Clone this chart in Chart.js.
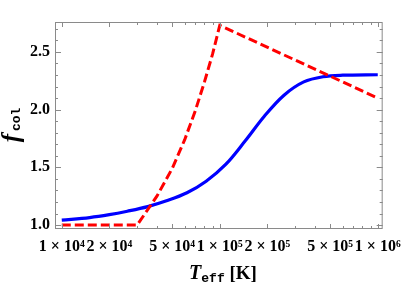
<!DOCTYPE html>
<html>
<head>
<meta charset="utf-8">
<script src="https://cdn.jsdelivr.net/npm/chart.js@4.4.1/dist/chart.umd.min.js"></script>
<style>
  html, body { margin: 0; padding: 0; background: #fff; }
  #wrap { width: 409px; height: 289px; }
</style>
</head>
<body>
<div id="wrap"><canvas id="fcolChart"></canvas></div>
<script>
// color correction factor vs effective temperature

// blue solid curve
const blueT = [1e4, 1.5e4, 2e4, 2.6e4, 3.5e4, 4.6e4, 6.2e4, 8.2e4, 1.09e5, 1.45e5, 1.92e5, 2.55e5, 3.4e5, 4.5e5, 6e5, 1e6];
const blueF = [1.043, 1.065, 1.09, 1.12, 1.16, 1.21, 1.28, 1.38, 1.525, 1.73, 1.945, 2.125, 2.24, 2.285, 2.298, 2.302];

// red dashed curve
const redT = [1e4, 3e4, 4e4, 5e4, 6e4, 7e4, 8e4, 9e4, 1e5, 1e6];
const redF = [1.0, 1.0, 1.25, 1.49, 1.74, 1.99, 2.24, 2.48, 2.73, 2.10];

// axes
const xTicks = [1e4, 2e4, 5e4, 1e5, 2e5, 5e5, 1e6];
const xTickLabels = ['1 × 10⁴', '2 × 10⁴', '5 × 10⁴', '1 × 10⁵', '2 × 10⁵', '5 × 10⁵', '1 × 10⁶'];
const xMinor = [3e4, 4e4, 6e4, 7e4, 8e4, 9e4, 3e5, 4e5, 6e5, 7e5, 8e5, 9e5];
const yTicks = [1.0, 1.5, 2.0, 2.5];
const yMinor = [1.1, 1.2, 1.3, 1.4, 1.6, 1.7, 1.8, 1.9, 2.1, 2.2, 2.3, 2.4, 2.6, 2.7];

const frameColor = '#8a8a8a';

// frame, inward ticks and axis titles (Mathematica style)
const framePlugin = {
  id: 'frame',
  afterDraw(chart) {
    const ctx = chart.ctx;
    const a = chart.chartArea;
    const xs = chart.scales.x, ys = chart.scales.y;
    ctx.save();
    ctx.strokeStyle = frameColor;
    ctx.lineWidth = 1;
    ctx.strokeRect(a.left + 0.5, a.top + 0.5, a.right - a.left - 1, a.bottom - a.top - 1);

    function xTick(v, len) {
      const px = Math.round(xs.getPixelForValue(v)) + 0.5;
      ctx.beginPath();
      ctx.moveTo(px, a.bottom); ctx.lineTo(px, a.bottom - len);
      ctx.moveTo(px, a.top); ctx.lineTo(px, a.top + len);
      ctx.stroke();
    }
    function yTick(v, len) {
      const py = Math.round(ys.getPixelForValue(v)) + 0.5;
      ctx.beginPath();
      ctx.moveTo(a.left, py); ctx.lineTo(a.left + len, py);
      ctx.moveTo(a.right, py); ctx.lineTo(a.right - len, py);
      ctx.stroke();
    }
    xTicks.forEach(v => xTick(v, 5));
    xMinor.forEach(v => xTick(v, 3));
    yTicks.forEach(v => yTick(v, 6));
    yMinor.forEach(v => yTick(v, 3));

    // x title: T_eff [K]
    ctx.fillStyle = '#000';
    ctx.textBaseline = 'alphabetic';
    ctx.textAlign = 'left';
    const fT = 'italic bold 20px "Liberation Serif", serif';
    const fSub = 'bold 13px "Liberation Mono", monospace';
    const fK = 'bold 19px "Liberation Serif", serif';
    ctx.font = fT; const wT = ctx.measureText('T').width;
    ctx.font = fSub; const wS = ctx.measureText('eff').width;
    ctx.font = fK; const wK = ctx.measureText(' [K]').width;
    let x0 = 223 - (wT + wS + wK) / 2;
    const base = 279;
    ctx.font = fT; ctx.fillText('T', x0, base); x0 += wT;
    ctx.font = fSub; ctx.fillText('eff', x0, base + 3); x0 += wS;
    ctx.font = fK; ctx.fillText(' [K]', x0, base);

    // y title: f_col (rotated)
    ctx.translate(19, 125);
    ctx.rotate(-Math.PI / 2);
    const fF = 'italic bold 25px "Liberation Serif", serif';
    const fCol = 'bold 13px "Liberation Mono", monospace';
    ctx.font = fF; const wF = ctx.measureText('f').width;
    ctx.font = fCol; const wC = ctx.measureText('col').width;
    let y0 = -(wF + 3 + wC) / 2;
    ctx.font = fF; ctx.fillText('f', y0, 0); y0 += wF + 3;
    ctx.font = fCol; ctx.fillText('col', y0, 1);
    ctx.restore();
  }
};

new Chart(document.getElementById('fcolChart'), {
  type: 'line',
  data: {
    datasets: [
      {
        label: 'red',
        data: redT.map((t, i) => ({ x: t, y: redF[i] })),
        borderColor: '#ff0000',
        borderWidth: 3,
        borderDash: [9, 4],
        pointRadius: 0,
        tension: 0,
        fill: false
      },
      {
        label: 'blue',
        data: blueT.map((t, i) => ({ x: t, y: blueF[i] })),
        borderColor: '#0000ff',
        borderWidth: 3.2,
        pointRadius: 0,
        tension: 0.35,
        fill: false
      }
    ]
  },
  options: {
    responsive: true,
    maintainAspectRatio: false,
    animation: false,
    layout: { padding: { top: 22, right: 18, left: 0, bottom: 0 } },
    plugins: {
      legend: { display: false },
      tooltip: { enabled: false }
    },
    scales: {
      x: {
        type: 'logarithmic',
        min: 9060,
        max: 1074000,
        grid: { display: false, drawTicks: false },
        border: { display: false },
        afterBuildTicks: s => { s.ticks = xTicks.map(v => ({ value: v })); },
        afterFit: s => { s.height = 60; },
        ticks: {
          autoSkip: false,
          maxRotation: 0,
          minRotation: 0,
          padding: 8,
          color: '#000',
          font: { family: '"Liberation Serif", serif', size: 16, weight: 'bold' },
          callback: (v, i) => xTickLabels[i]
        }
      },
      y: {
        min: 0.966,
        max: 2.759,
        grid: { display: false, drawTicks: false },
        border: { display: false },
        afterBuildTicks: s => { s.ticks = yTicks.map(v => ({ value: v })); },
        afterFit: s => { s.width = 55; },
        ticks: {
          padding: 5,
          color: '#000',
          font: { family: '"Liberation Serif", serif', size: 16, weight: 'bold' },
          callback: v => v.toFixed(1)
        }
      }
    }
  },
  plugins: [framePlugin]
});
</script>
</body>
</html>
